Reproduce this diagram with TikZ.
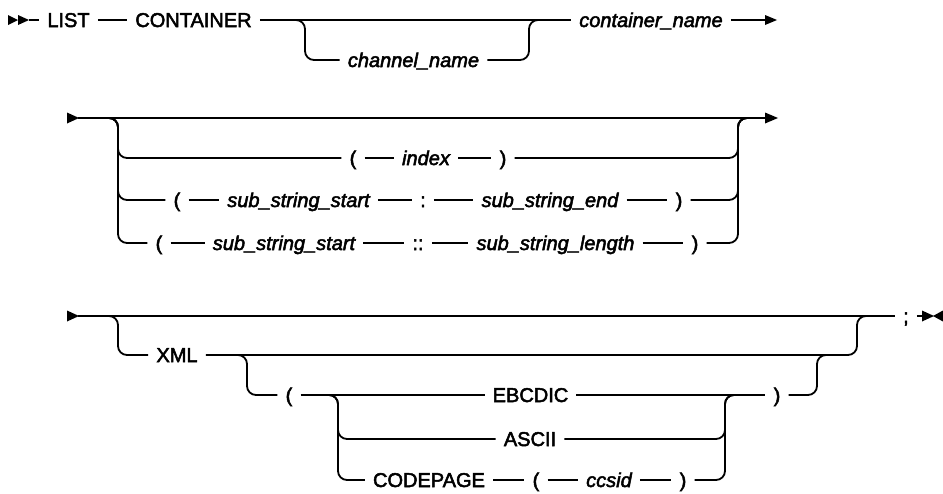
\documentclass[tikz,border=0pt]{standalone}
\usepackage{fontspec}
\setmainfont{Liberation Sans}
\newfontfamily\railfont{Liberation Sans}[FakeBold=2.5,
  ItalicFont={Liberation Sans Italic}, ItalicFeatures={FakeBold=2.5}]
\begin{document}
\begin{tikzpicture}[x=1pt,y=-1pt,
  rail/.style={line width=1.8pt, rounded corners=9pt},
  kw/.style={inner xsep=8pt, inner ysep=0pt, text height=14pt, text depth=0pt, font=\railfont\fontsize{20}{24}\selectfont},
  var/.style={kw, font=\railfont\fontsize{20}{24}\selectfont\itshape},
  tip/.style={fill=black, draw=none}]
\useasboundingbox (0,0) rectangle (943,493);

% ---------- Row 1 ----------
\coordinate (s1) at (29,20);
\node[kw]  (list) at (68.5,20) {LIST};
\node[kw]  (cont) at (193.5,20) {CONTAINER};
\node[var] (chan) at (413.5,60) {channel\_name};
\node[var] (cname) at (651,20) {container\_name};
\coordinate (e1) at (766,20);
\coordinate (b1a) at (293,20);
\coordinate (b1b) at (305,60);
\coordinate (b1c) at (529,20);
\coordinate (b1d) at (541,20);

\fill[tip] (8,15) -- (18,20) -- (8,25) -- cycle;
\fill[tip] (18,15) -- (29,20) -- (18,25) -- cycle;
\draw[rail] (s1) -- (list.west);
\draw[rail] (list.east) -- (cont.west);
\draw[rail] (cont.east) -- (cname.west);
\draw[rail] (b1a) -| (b1b) -- (chan.west);
\draw[rail] (chan.east) -| (b1c) -- (b1d);
\draw[rail] (cname.east) -- (e1);
\fill[tip] (765,15) -- (777,20) -- (765,25) -- cycle;

% ---------- Row 2 ----------
\coordinate (s2) at (78,118);
\coordinate (e2) at (767,118);
\coordinate (l2) at (106,118);
\coordinate (r2) at (750,118);
\fill[tip] (67,112.5) -- (79,118) -- (67,123.5) -- cycle;
\draw[rail] (s2) -- (e2);
\fill[tip] (765,112.5) -- (778,118) -- (765,123.5) -- cycle;

% option 1: ( index )
\node[kw]  (o1p) at (353,158) {(};
\node[var] (o1i) at (426,158) {index};
\node[kw]  (o1q) at (503,158) {)};
\draw[rail] (l2) -| (118,158) -- (o1p.west);
\draw[rail] (o1p.east) -- (o1i.west);
\draw[rail] (o1i.east) -- (o1q.west);
\draw[rail] (o1q.east) -| (738,118) -- (r2);

% option 2: ( sub_string_start : sub_string_end )
\node[kw]  (o2p) at (177,200) {(};
\node[var] (o2s) at (298.5,200) {sub\_string\_start};
\node[kw]  (o2c) at (423,200) {:};
\node[var] (o2e) at (550,200) {sub\_string\_end};
\node[kw]  (o2q) at (679,200) {)};
\draw[rail] (l2) -| (118,200) -- (o2p.west);
\draw[rail] (o2p.east) -- (o2s.west);
\draw[rail] (o2s.east) -- (o2c.west);
\draw[rail] (o2c.east) -- (o2e.west);
\draw[rail] (o2e.east) -- (o2q.west);
\draw[rail] (o2q.east) -| (738,118) -- (r2);

% option 3: ( sub_string_start :: sub_string_length )
\node[kw]  (o3p) at (159,243) {(};
\node[var] (o3s) at (284,243) {sub\_string\_start};
\node[kw]  (o3c) at (418,243) {::};
\node[var] (o3e) at (555.5,243) {sub\_string\_length};
\node[kw]  (o3q) at (695,243) {)};
\draw[rail] (l2) -| (118,243) -- (o3p.west);
\draw[rail] (o3p.east) -- (o3s.west);
\draw[rail] (o3s.east) -- (o3c.west);
\draw[rail] (o3c.east) -- (o3e.west);
\draw[rail] (o3e.east) -- (o3q.west);
\draw[rail] (o3q.east) -| (738,118) -- (r2);

% ---------- Row 3 ----------
\coordinate (s3) at (78,316);
\coordinate (l3) at (106,316);
\coordinate (r3) at (869,316);
\node[kw] (semi) at (906,316) {;};
\fill[tip] (67,310.5) -- (79,316) -- (67,321.5) -- cycle;
\draw[rail] (s3) -- (semi.west);
\coordinate (e3) at (924,316);
\draw[rail] (semi.east) -- (e3);
\fill[tip] (922,310.5) -- (934,316) -- (922,321.5) -- cycle;
\fill[tip] (943,310.5) -- (933,316) -- (943,321.5) -- cycle;

\node[kw] (xml) at (177,355) {XML};
\draw[rail] (l3) -| (118,355) -- (xml.west);
\draw[rail] (xml.east) -| (857,316) -- (r3);

\coordinate (l4) at (236,355);
\coordinate (r4) at (829,355);
\node[kw] (cp) at (289,395) {(};
\draw[rail] (l4) -| (247,395) -- (cp.west);

\coordinate (l5) at (327,395);
\coordinate (r5) at (737,395);
\node[kw] (ebc) at (530.5,395) {EBCDIC};
\node[kw] (asc) at (530,439) {ASCII};
\node[kw] (cdp) at (429,480) {CODEPAGE};
\node[kw] (cdpp) at (536,480) {(};
\node[var] (ccs) at (609,480) {ccsid};
\node[kw] (cdpq) at (683,480) {)};
\node[kw] (cq) at (777,395) {)};

\draw[rail] (cp.east) -- (ebc.west);
\draw[rail] (ebc.east) -- (cq.west);
\draw[rail] (l5) -| (338,439) -- (asc.west);
\draw[rail] (l5) -| (338,480) -- (cdp.west);
\draw[rail] (cdp.east) -- (cdpp.west);
\draw[rail] (cdpp.east) -- (ccs.west);
\draw[rail] (ccs.east) -- (cdpq.west);
\draw[rail] (asc.east) -| (725,395) -- (r5);
\draw[rail] (cdpq.east) -| (725,395) -- (r5);
\draw[rail] (cq.east) -| (817,355) -- (r4);
\end{tikzpicture}
\end{document}
